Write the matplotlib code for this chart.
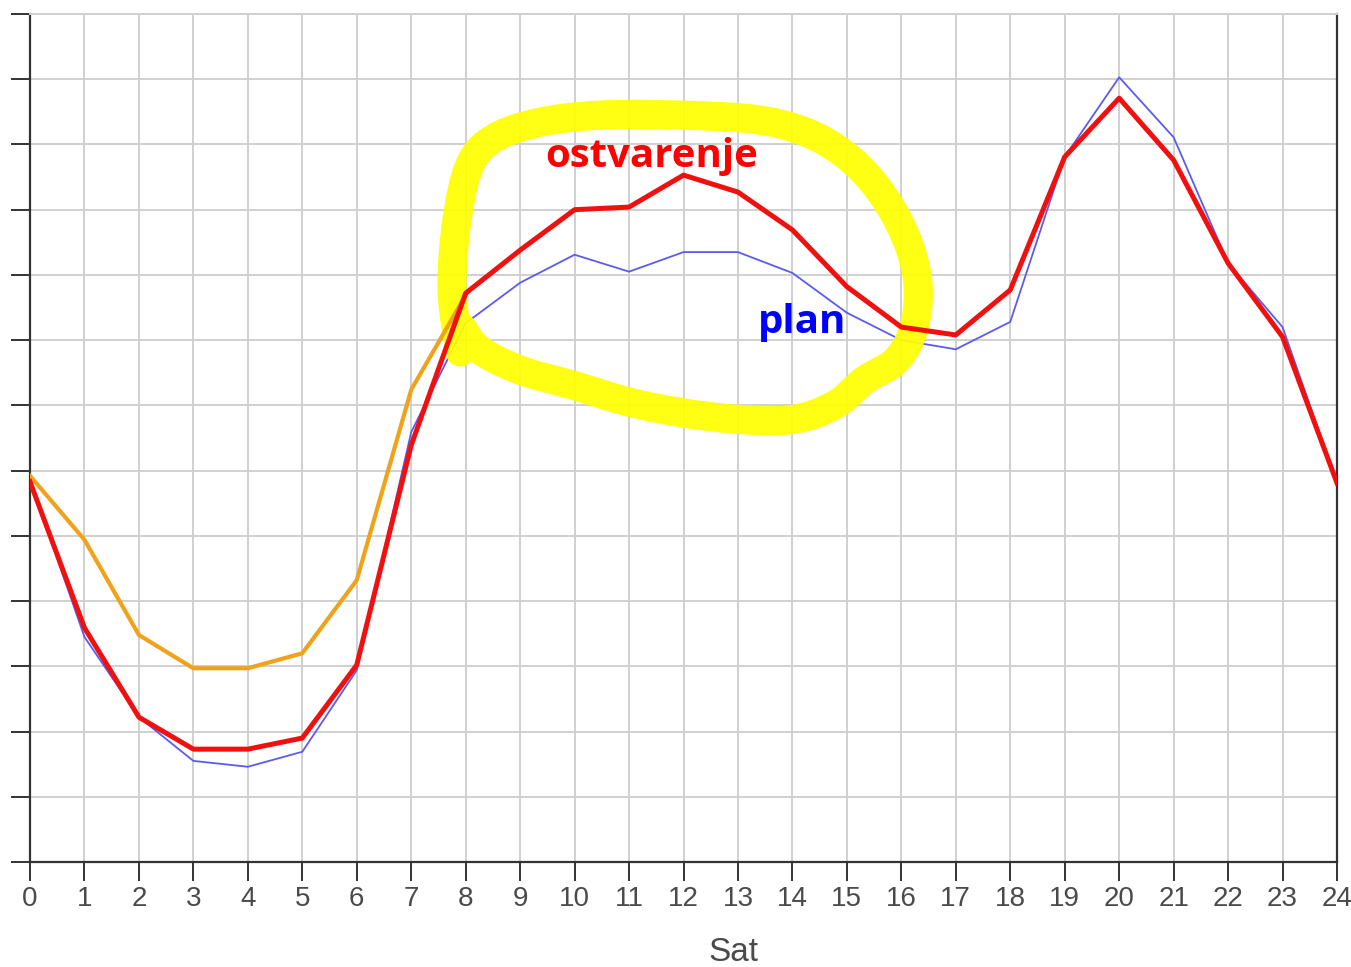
import matplotlib
matplotlib.use('Agg')
import matplotlib.pyplot as plt
from matplotlib.path import Path
from matplotlib.patches import PathPatch

hours = list(range(25))

ostvarenje = [5.83, 3.59, 2.22, 1.73, 1.73, 1.90, 3.02, 6.39, 8.72, 9.38, 10.0, 10.04,
              10.53, 10.27, 9.69, 8.82, 8.20, 8.08, 8.77, 10.81, 11.71, 10.76, 9.18, 8.05, 5.81]
plan = [5.85, 3.45, 2.22, 1.55, 1.46, 1.69, 2.94, 6.59, 8.26, 8.88, 9.31, 9.05,
        9.35, 9.35, 9.03, 8.42, 8.00, 7.86, 8.28, 10.81, 12.03, 11.11, 9.18, 8.20, 5.81]
# orange curve only covers the first hours
orange_hours = [0, 1, 2, 3, 4, 5, 6, 7, 8]
orange = [5.92, 4.94, 3.48, 2.97, 2.97, 3.20, 4.32, 7.24, 8.69]

# freehand yellow highlight loop (hour, value)
loop_x = [7.90, 7.75, 7.84, 8.08, 8.53, 9.36, 10.46, 11.93, 13.35, 14.27, 14.97, 15.52,
          15.98, 16.25, 16.31, 16.19, 15.88, 15.33, 14.78, 13.96, 12.67, 11.20, 9.97,
          9.00, 8.26, 7.93]
loop_y = [7.82, 8.77, 9.84, 10.69, 11.10, 11.34, 11.45, 11.45, 11.38, 11.18, 10.84, 10.38,
          9.77, 9.15, 8.62, 8.08, 7.67, 7.39, 7.01, 6.78, 6.81, 7.01, 7.31,
          7.54, 7.85, 8.19]


def smooth_path(xs, ys):
    # catmull-rom through the points, as cubic bezier segments
    pts = list(zip(xs, ys))
    pts = [pts[0]] + pts + [pts[-1]]
    verts = [pts[1]]
    codes = [Path.MOVETO]
    for i in range(1, len(pts) - 2):
        p0, p1, p2, p3 = pts[i - 1], pts[i], pts[i + 1], pts[i + 2]
        c1 = (p1[0] + (p2[0] - p0[0]) / 6, p1[1] + (p2[1] - p0[1]) / 6)
        c2 = (p2[0] - (p3[0] - p1[0]) / 6, p2[1] - (p3[1] - p1[1]) / 6)
        verts += [c1, c2, p2]
        codes += [Path.CURVE4] * 3
    return Path(verts, codes)


fig = plt.figure(figsize=(13.51, 9.67), dpi=100)
ax = fig.add_axes([30 / 1351, 105 / 967, 1307 / 1351, 848 / 967])

ax.plot(hours, plan, color='#5b5bf0', lw=1.3, zorder=3)
ax.add_patch(PathPatch(smooth_path(loop_x, loop_y), facecolor='none', edgecolor='#ffff00',
                       lw=21, alpha=0.92, capstyle='round', joinstyle='round', zorder=4))
ax.plot(orange_hours, orange, color='#f0a21a', lw=3.0, zorder=5)
ax.plot(hours, ostvarenje, color='#f01010', lw=3.6, zorder=6)

ax.text(9.46, 10.65, 'ostvarenje', color='#ff0000', fontsize=29, fontweight='bold',
        family=['Open Sans', 'DejaVu Sans'], ha='left', va='baseline', zorder=7)
ax.text(13.37, 8.11, 'plan', color='#0000ff', fontsize=29, fontweight='bold',
        family=['Open Sans', 'DejaVu Sans'], ha='left', va='baseline', zorder=7)

ax.set_xlim(0, 24)
ax.set_ylim(0, 13)
ax.set_xticks(hours)
ax.set_yticks(range(14))
ax.set_yticklabels([])
ax.set_xticklabels([str(h) for h in hours], color='#4a4a4a', fontsize=20,
                   family=['Liberation Sans', 'DejaVu Sans'])
ax.tick_params(axis='both', direction='out', length=14, width=1.4, color='#333333', pad=3)
ax.grid(True, color='#d0d0d0', lw=1.4, zorder=1)
ax.set_axisbelow(True)

for side in ['left', 'bottom', 'right']:
    ax.spines[side].set_color('#333333')
    ax.spines[side].set_linewidth(1.6)
ax.spines['top'].set_color('#d0d0d0')
ax.spines['top'].set_linewidth(1.4)

ax.set_xlabel('Sat', color='#4a4a4a', fontsize=24, family=['Liberation Sans', 'DejaVu Sans'])
ax.xaxis.set_label_coords(0.538, -0.088)

fig.savefig('out.png', dpi=100, facecolor='white')
